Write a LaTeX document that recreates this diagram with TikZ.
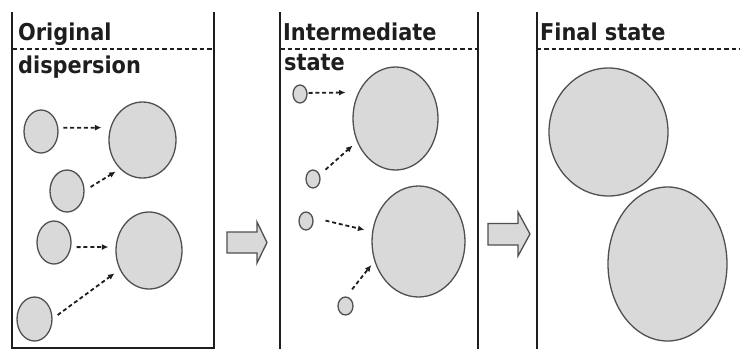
\documentclass[tikz,border=0pt]{standalone}
\usepackage{fontspec}
\newfontfamily\labfont{DejaVu Sans Condensed}
\usetikzlibrary{shapes.geometric,arrows.meta}
\definecolor{blobfill}{HTML}{D9D9D9}
\definecolor{blobline}{HTML}{505050}
\definecolor{inkdark}{HTML}{1E1E1E}
\tikzset{
  blob/.style={ellipse, draw=blobline, fill=blobfill, line width=1.3bp, inner sep=0pt},
  darr/.style={draw=inkdark, line width=1.8bp, dash pattern=on 4bp off 2.8bp, -{Latex[length=6.5bp,width=6bp]}},
  panel/.style={draw=inkdark, line width=2bp},
  divider/.style={draw=inkdark, line width=1.7bp, dash pattern=on 4.5bp off 3bp},
  blockarrow/.style={draw=blobline, fill=blobfill, line width=1.3bp, line join=miter},
  lab/.style={anchor=base west, inner sep=0pt, text=inkdark, font=\labfont\bfseries\fontsize{23.2bp}{27bp}\selectfont}
}
\begin{document}
\begin{tikzpicture}[x=1bp,y=-1bp]
\useasboundingbox (0,0) rectangle (740,349);
% panels
\draw[panel] (12,12) -- (12,347.5) -- (213.5,347.5) -- (213.5,12);
\draw[panel] (280,12) -- (280,349);
\draw[panel] (477.5,12) -- (477.5,349);
\draw[panel] (536.5,12) -- (536.5,349);
\draw[divider] (12,49) -- (213.5,49);
\draw[divider] (280,49) -- (477.5,49);
\draw[divider] (536.5,49) -- (740,49);
% labels
\node[lab] (t1a) at (18,40) {Original};
\node[lab] (t1b) at (18,73) {dispersion};
\node[lab] (t2a) at (283,40) {Intermediate};
\node[lab] (t2b) at (284,70) {state};
\node[lab] (t3a) at (540,40) {Final state};
% panel 1
\node[blob, minimum width=34bp, minimum height=43bp] (s1) at (41,131.5) {};
\node[blob, minimum width=67bp, minimum height=76bp] (b1) at (142.5,140) {};
\node[blob, minimum width=34bp, minimum height=42bp] (s2) at (67,191) {};
\node[blob, minimum width=34bp, minimum height=43bp] (s3) at (54,242.5) {};
\node[blob, minimum width=66bp, minimum height=77bp] (b2) at (149,250.5) {};
\node[blob, minimum width=35bp, minimum height=44bp] (s4) at (34.5,319) {};
\draw[darr, shorten <=5bp, shorten >=8.7bp] (s1.12) -- (b1.159);
\draw[darr, shorten <=7bp, shorten >=5bp] (s2.1) -- (b1.232);
\draw[darr, shorten <=5.4bp, shorten >=7.1bp] (s3.345) -- (b2.174);
\draw[darr, shorten <=6.2bp, shorten >=6.4bp] (s4.1) -- (b2.213);
% panel 2
\node[blob, minimum width=14bp, minimum height=18bp] (c1) at (300,94) {};
\node[blob, minimum width=85bp, minimum height=103bp] (B1) at (395.5,118.5) {};
\node[blob, minimum width=14bp, minimum height=18bp] (c2) at (313,179) {};
\node[blob, minimum width=14bp, minimum height=18bp] (c3) at (306,221) {};
\node[blob, minimum width=93bp, minimum height=111bp] (B2) at (418.5,241.5) {};
\node[blob, minimum width=15bp, minimum height=18bp] (c4) at (345.5,306) {};
\draw[darr, shorten <=1bp, shorten >=12.6bp] (c1.8) -- (B1.145);
\draw[darr, shorten <=7.6bp, shorten >=5.8bp] (c2.32) -- (B1.211);
\draw[darr, shorten <=12.7bp, shorten >=7.9bp] (c3.25) -- (B2.168);
\draw[darr, shorten <=9bp, shorten >=4.9bp] (c4.84) -- (B2.204);
% panel 3
\node[blob, minimum width=119bp, minimum height=128bp] (f1) at (608.5,132) {};
\node[blob, minimum width=119bp, minimum height=154bp] (f2) at (667.5,264) {};
% block arrows
\draw[blockarrow] (227,232) -- (257,232) -- (257,222) -- (267,242.5) -- (257,263) -- (257,253) -- (227,253) -- cycle;
\draw[blockarrow] (488,223.5) -- (518,223.5) -- (518,212) -- (530,234) -- (518,256) -- (518,245) -- (488,245) -- cycle;
\end{tikzpicture}
\end{document}
